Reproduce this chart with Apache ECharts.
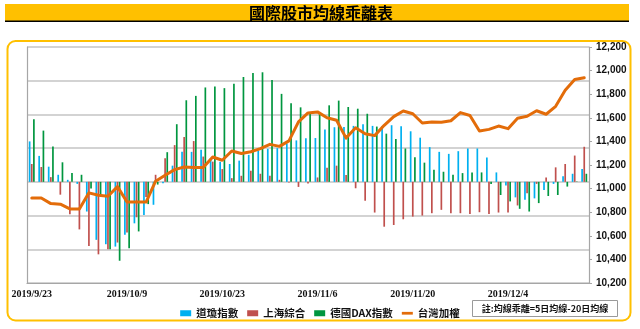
<!DOCTYPE html>
<html>
<head>
<meta charset="utf-8">
<script src="https://cdn.jsdelivr.net/npm/echarts@6/dist/echarts.min.js"></script>
<style>
  html, body { margin: 0; padding: 0; background: #ffffff; }
  #chart { width: 640px; height: 329px; }
</style>
</head>
<body>
<div id="chart"></div>
<script>
// Trading days shown on the category axis (every 10th one is labelled)
const dates = [
  '2019/9/23','2019/9/24','2019/9/25','2019/9/26','2019/9/27','2019/10/2','2019/10/3','2019/10/4','2019/10/7','2019/10/8',
  '2019/10/9','2019/10/10','2019/10/11','2019/10/14','2019/10/15','2019/10/16','2019/10/17','2019/10/18','2019/10/21','2019/10/22',
  '2019/10/23','2019/10/24','2019/10/25','2019/10/28','2019/10/29','2019/10/30','2019/10/31','2019/11/1','2019/11/4','2019/11/5',
  '2019/11/6','2019/11/7','2019/11/8','2019/11/11','2019/11/12','2019/11/13','2019/11/14','2019/11/15','2019/11/18','2019/11/19',
  '2019/11/20','2019/11/21','2019/11/22','2019/11/25','2019/11/26','2019/11/27','2019/11/28','2019/11/29','2019/12/2','2019/12/3',
  '2019/12/4','2019/12/5','2019/12/6','2019/12/9','2019/12/10','2019/12/11','2019/12/12','2019/12/13','2019/12/16'
];

// 5-day MA minus 20-day MA (left, unlabelled scale)
const dowJones = [
  120, 77, 45, 21, 6, -6, -88, -172, -185, -192,
  -157, -123, -98, -68, -4, 48, 89, 89, 95, 70,
  60, 53, 63, 80, 93, 98, 100, 114, 123, 129,
  130, 155, 162, 163, 166, 171, 166, 166, 168, 165,
  150, 131, 103, 89, 83, 91, 99, 99, 72, 28,
  -11, -46, -53, -49, -24, -6, 17, 24, 38
];
const shanghai = [
  53, 44, 14, -38, -96, -141, -190, -215, -200, -180,
  -150, -105, -45, 21, 70, 109, 133, 121, 75, 60,
  38, 11, 18, 33, 24, 18, 6, -2, -15, -5,
  13, 42, 48, 20, -19, -56, -91, -133, -128, -111,
  -103, -100, -93, -83, -93, -93, -95, -90, -95, -91,
  -91, -70, -34, -6, 13, 43, 53, 78, 104
];
const dax = [
  186, 152, 105, 58, 26, 21, -20, -42, -200, -234,
  -197, -147, -66, -8, 88, 171, 242, 255, 280, 283,
  278, 291, 311, 323, 325, 302, 261, 233, 221, 203,
  202, 227, 241, 222, 217, 202, 164, 143, 127, 99,
  73, 57, 36, 30, 21, 26, 28, 28, -6, -39,
  -58, -80, -88, -63, -42, -39, -14, 1, 24
];

// Taiwan weighted index (right axis)
const taiex = [
  10920, 10920, 10873, 10868, 10828, 10828, 10964, 10943, 10935, 11017,
  10886, 10886, 10886, 11063, 11113, 11161, 11183, 11178, 11178, 11268,
  11240, 11319, 11297, 11312, 11339, 11375, 11358, 11404, 11565, 11641,
  11650, 11600, 11579, 11428, 11515, 11465, 11449, 11536, 11610, 11658,
  11634, 11556, 11565, 11562, 11575, 11644, 11620, 11488, 11502, 11530,
  11508, 11597, 11613, 11660, 11630, 11697, 11833, 11924, 11939
];

const seriesNames = ['道瓊指數', '上海綜合', '德國DAX指數', '台灣加權'];
const colors = ['#00B0F0', '#C0504D', '#00963F', '#E36C09'];
const titleText = '國際股市均線乖離表';
const noteText = '註:均線乖離=5日均線-20日均線';

const chart = echarts.init(document.getElementById('chart'), null, { renderer: 'canvas' });

const barSeries = (name, data, color) => ({
  name, type: 'bar', data, yAxisIndex: 0,
  barWidth: 1.7, barGap: '25%',
  itemStyle: { color },
  emphasis: { disabled: true },
  silent: true
});

chart.setOption({
  animation: false,
  backgroundColor: '#ffffff',
  color: colors,
  grid: { left: 27, right: 51, top: 47, bottom: 46, containLabel: false },
  xAxis: {
    type: 'category',
    data: dates,
    boundaryGap: true,
    axisLine: { onZero: false, lineStyle: { color: '#a6a6a6', width: 1.2 } },
    axisTick: { show: false },
    axisLabel: {
      interval: 9,
      margin: 6,
      color: '#111',
      fontFamily: 'Liberation Serif',
      fontSize: 10,
      fontWeight: 'bold'
    },
    splitLine: { show: false }
  },
  yAxis: [
    {
      type: 'value', min: -300, max: 400, interval: 100,
      axisLine: { show: true, lineStyle: { color: '#a6a6a6', width: 1.2 } },
      axisTick: { show: false },
      axisLabel: { show: false },
      splitLine: { show: true, lineStyle: { color: '#c4c4c4', width: 1.5 } }
    },
    {
      type: 'value', min: 10200, max: 12200, interval: 200, position: 'right',
      axisLine: { show: true, lineStyle: { color: '#a6a6a6', width: 1.2 } },
      axisTick: { show: true, length: 3, lineStyle: { color: '#a6a6a6' } },
      axisLabel: {
        margin: 7, color: '#111',
        fontFamily: 'Liberation Sans', fontSize: 10, fontWeight: 'bold'
      },
      splitLine: { show: false }
    }
  ],
  legend: {
    left: 'center',
    top: 303,
    itemGap: 9,
    itemWidth: 11,
    itemHeight: 6,
    selectedMode: false,
    textStyle: { fontFamily: 'Noto Sans CJK TC', fontSize: 10.5, fontWeight: 'bold', color: '#111' },
    data: [
      { name: seriesNames[0], icon: 'rect' },
      { name: seriesNames[1], icon: 'rect' },
      { name: seriesNames[2], icon: 'rect' },
      { name: seriesNames[3], icon: 'path://M0,0H12V3H0Z' }
    ]
  },
  series: [
    barSeries(seriesNames[0], dowJones, colors[0]),
    barSeries(seriesNames[1], shanghai, colors[1]),
    barSeries(seriesNames[2], dax, colors[2]),
    {
      name: seriesNames[3], type: 'line', data: taiex, yAxisIndex: 1,
      symbol: 'none', smooth: false, z: 5,
      lineStyle: { color: colors[3], width: 3, join: 'round', cap: 'round' },
      itemStyle: { color: colors[3] },
      emphasis: { disabled: true },
      silent: true
    }
  ],
  graphic: [
    // title banner
    { type: 'rect', left: 5, top: 4, shape: { width: 624, height: 17 }, style: { fill: '#FFC000' }, silent: true, z: -1 },
    { type: 'rect', left: 5, top: 20.5, shape: { width: 624, height: 1.6 }, style: { fill: '#000' }, silent: true },
    {
      type: 'text', x: 321, y: 12.5, silent: true,
      style: {
        text: titleText, align: 'center', verticalAlign: 'middle',
        font: 'bold 16px "Noto Sans CJK TC"', fill: '#000'
      }
    },
    // chart frame
    {
      type: 'rect', left: 5, top: 38.5, silent: true, z: -1,
      shape: { width: 623, height: 279.5, r: 8 },
      style: { fill: 'none', stroke: '#FFC000', lineWidth: 2 }
    },
    // note box
    {
      type: 'group', left: 472, top: 300, silent: true,
      children: [
        { type: 'rect', shape: { x: 0, y: 0, width: 145, height: 16 }, style: { fill: '#fff', stroke: '#9a9a9a', lineWidth: 1 } },
        {
          type: 'text', x: 72.5, y: 8.5,
          style: { text: noteText, align: 'center', verticalAlign: 'middle', font: 'bold 9px "Noto Sans CJK TC"', fill: '#111' }
        }
      ]
    }
  ]
});
</script>
</body>
</html>
